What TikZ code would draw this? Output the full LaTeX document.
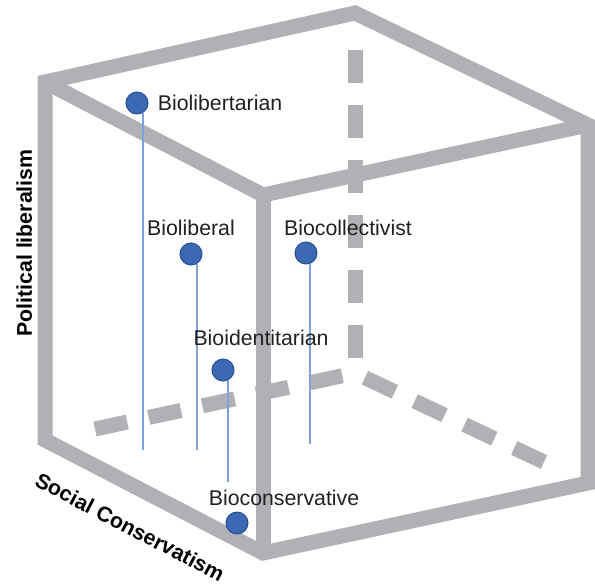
\documentclass[tikz,border=0pt]{standalone}
\usepackage{fontspec}
\setmainfont{Liberation Sans}
\usetikzlibrary{positioning}
\definecolor{edgegray}{RGB}{176,177,181}
\definecolor{dotblue}{RGB}{59,105,179}
\definecolor{dotrim}{RGB}{42,80,145}
\definecolor{stemblue}{RGB}{126,162,218}
\definecolor{inkgray}{RGB}{35,31,32}
\tikzset{
    spot/.style={
           circle,
           fill=dotblue,
           draw=dotrim,
           line width=0.5pt,
           minimum size=11pt,
           inner sep=0pt,
           },
    tag/.style={
           inner sep=0pt,
           text=inkgray,
           font=\fontsize{10.65}{12.8}\selectfont,
           },
}

\begin{document}
\begin{tikzpicture}[
  x=0.5pt,y=-0.5pt,
  node distance=3pt,
  cube/.style={draw=edgegray,line width=7.5pt,line join=miter},
  hidden/.style={draw=edgegray,line width=7.5pt,dash pattern=on 16.5pt off 11pt},
  stem/.style={draw=stemblue,line width=0.75pt},
  axis/.style={text=black,inner sep=0pt,font=\bfseries\fontsize{10.65}{12.8}\selectfont}]
\useasboundingbox (0,0) rectangle (595,585);

\coordinate (lt) at (45,82);
\coordinate (lb) at (45,440);
\coordinate (ft) at (263,195);
\coordinate (fb) at (263,553);
\coordinate (rt) at (588,125);
\coordinate (rb) at (588,483);
\coordinate (bt) at (355,13);
\coordinate (hid) at (355,373);
\coordinate (hidup) at (355,50);
\coordinate (hidleft) at (95,429);
\coordinate (hidright) at (544,462);

% edges out of sight
\draw[hidden,dash phase=20pt] (hid) -- (hidup);
\draw[hidden,dash phase=21pt] (hid) -- (hidleft);
\draw[hidden,dash phase=22pt] (hid) -- (hidright);

% outline and front corner
\draw[cube] (bt) -- (lt) -- (lb) -- (fb) -- (rb) -- (rt) -- cycle;
\draw[cube] (lt) -- (ft) -- (rt);
\draw[cube] (ft) -- (fb);

\node[spot](libert) at (137,103) {};
\node[spot](liberal) at (191,254) {};
\node[spot](collect) at (306,253) {};
\node[spot](ident) at (223,370) {};
\node[spot](conserv) at (237,523) {};

\coordinate (libertfoot) at (143,450);
\coordinate (liberalfoot) at (197,450);
\coordinate (collectfoot) at (309,444);
\coordinate (identfoot) at (227,482);

\draw[stem] (libert.-60) -- (libert.-60 |- libertfoot);
\draw[stem] (liberal.-60) -- (liberal.-60 |- liberalfoot);
\draw[stem] (collect.-70) -- (collect.-70 |- collectfoot);
\draw[stem] (ident.-65) -- (ident.-65 |- identfoot);

\node[tag,right=4.5pt of libert](libertlbl){Biolibertarian};
\node[tag,above=of liberal](liberallbl){Bioliberal};
\node[tag,above=2.5pt of collect,xshift=21pt](collectlbl){Biocollectivist};
\node[tag,above=6pt of ident,xshift=19pt](identlbl){Bioidentitarian};
\node[tag,above=2.5pt of conserv,xshift=23.5pt](conservlbl){Bioconservative};

\node[axis,rotate=90,anchor=base](polaxis) at (32,243) {Political liberalism};
\node[axis,rotate=-27.5](socaxis) at (130,527) {Social Conservatism};
\end{tikzpicture}
\end{document}
